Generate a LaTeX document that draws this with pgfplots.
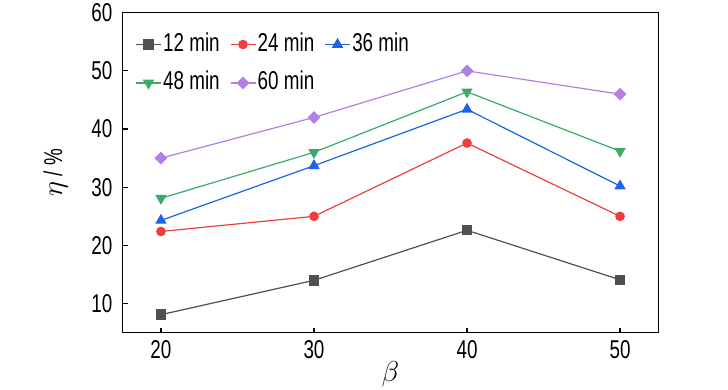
\documentclass[border=0pt]{standalone}
\usepackage{fontspec}
\setmainfont{Liberation Sans}[FakeStretch=0.73]
\usepackage{pgfplots}
\pgfplotsset{compat=1.18}
\definecolor{cgray}{RGB}{80,80,80}
\definecolor{cred}{RGB}{240,62,62}
\definecolor{cblue}{RGB}{28,100,228}
\definecolor{cgreen}{RGB}{60,170,104}
\definecolor{cpurple}{RGB}{178,128,228}
\newcommand{\ff}{\fontsize{12.9}{15}\selectfont}
\begin{document}
\begin{tikzpicture}
\path[use as bounding box] (-61.35pt,-28.65pt) rectangle (302.65pt,166.35pt);
\begin{axis}[
  scale only axis,
  width=267.8pt, height=160pt,
  xmin=17.5, xmax=52.5, ymin=5, ymax=60,
  xtick={20,30,40,50}, ytick={10,20,30,40,50,60},
  xtick pos=left, ytick pos=left,
  tick align=inside,
  major tick length=2.5pt,
  axis line style={line width=0.7pt},
  every tick/.style={black, line width=0.6pt},
  /pgf/number format/assume math mode=true,
  tick label style={font=\ff, inner sep=0pt},
  xticklabel style={yshift=-3.65pt},
  yticklabel style={xshift=-5pt},
  xlabel={\fontsize{14.5}{16}\selectfont$\beta$},
  ylabel={\ff\fontsize{14.5}{16}\selectfont$\eta$\ff\ / \%},
  every axis x label/.style={at={(axis description cs:0.5,0)}, yshift=-21pt, anchor=center, font=\ff},
  every axis y label/.style={at={(axis description cs:0,0.5)}, xshift=-30.3pt, anchor=base, rotate=90, font=\ff},
  legend columns=3,
  legend cell align=left,
  legend style={at={(axis description cs:0,1)}, anchor=north west, xshift=6.15pt, yshift=-9pt,
    draw=none, fill=none, inner sep=0pt, font=\ff, row sep=5.85pt,
    nodes={inner sep=0.8pt, text height=9.3pt, text depth=2.5pt},
    /tikz/every even column/.append style={column sep=4.3pt}},
  legend image code/.code={\draw[mark repeat=2,mark phase=2] plot coordinates {(0pt,0pt) (6.25pt,0pt) (12.5pt,0pt)};},
  every axis plot/.append style={line width=0.6pt},
]
\addplot[cgray, mark=square*, mark size=2.3pt, mark options={solid}] coordinates {(20,8.1) (30,14.0) (40,22.6) (50,14.1)};
\addlegendentry{12 min}
\addplot[cred, mark=*, mark size=2.1pt] coordinates {(20,22.4) (30,25.0) (40,37.6) (50,25.0)};
\addlegendentry{24 min}
\addplot[cblue, mark=triangle*, mark size=2.7pt] coordinates {(20,24.3) (30,33.7) (40,43.4) (50,30.2)};
\addlegendentry{36 min}
\addplot[cgreen, mark=triangle*, mark size=2.7pt, mark options={rotate=180}] coordinates {(20,28.1) (30,36.0) (40,46.4) (50,36.2)};
\addlegendentry{48 min}
\addplot[cpurple, mark=square*, mark size=1.95pt, mark options={rotate=45}] coordinates {(20,35.0) (30,42.0) (40,50.0) (50,46.0)};
\addlegendentry{60 min}
\end{axis}
\end{tikzpicture}
\end{document}
